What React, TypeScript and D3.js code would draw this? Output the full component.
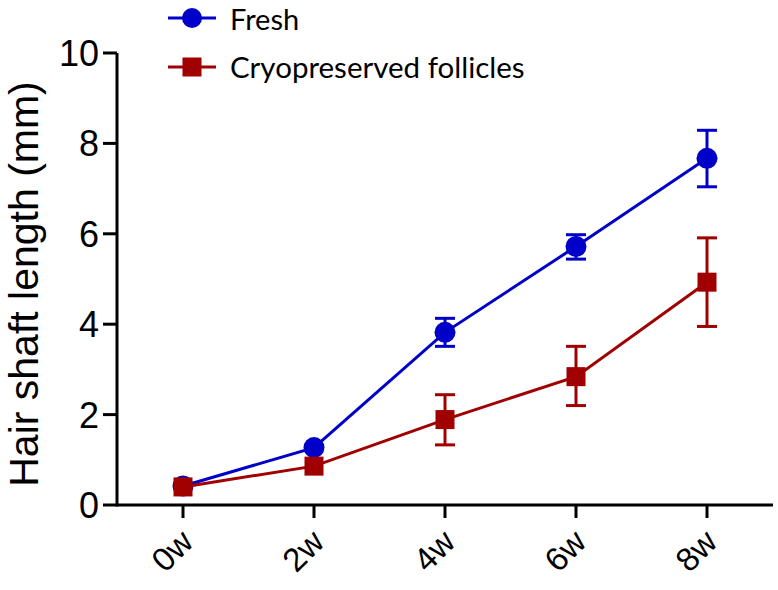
import React from "react";
import * as d3 from "d3";

const categories = ["0w", "2w", "4w", "6w", "8w"];
const freshMean = [0.42, 1.27, 3.82, 5.72, 7.67];
const freshLow = [0.42, 1.27, 3.51, 5.44, 7.04];
const freshHigh = [0.42, 1.27, 4.13, 5.98, 8.29];
const cryoMean = [0.4, 0.86, 1.89, 2.84, 4.93];
const cryoLow = [0.4, 0.86, 1.33, 2.2, 3.95];
const cryoHigh = [0.4, 0.86, 2.44, 3.51, 5.91];
const yTicks = [0, 2, 4, 6, 8, 10];

const BLUE = "#0000C8";
const RED = "#A00000";

export default function App() {
  const W = 778, H = 590;
  const x = d3.scalePoint<string>().domain(categories).range([183, 707]);
  const y = d3.scaleLinear().domain([0, 10]).range([505, 53]);
  const line = d3.line<number>().x((_, i) => x(categories[i])!).y((d) => y(d));
  const axisFont = "'Liberation Sans', Arial, sans-serif";
  const legendFont = "Lato, 'Open Sans', sans-serif";

  const errBars = (lo: number[], hi: number[], color: string) =>
    categories.map((c, i) =>
      hi[i] - lo[i] > 0.05 ? (
        <g key={"e" + c} stroke={color} strokeWidth={3}>
          <line x1={x(c)} x2={x(c)} y1={y(lo[i])} y2={y(hi[i])} />
          <line x1={x(c)! - 10} x2={x(c)! + 10} y1={y(lo[i])} y2={y(lo[i])} />
          <line x1={x(c)! - 10} x2={x(c)! + 10} y1={y(hi[i])} y2={y(hi[i])} />
        </g>
      ) : null
    );

  return (
    <svg width={W} height={H} style={{ position: "absolute", left: 0, top: 0 }}>
      <rect width={W} height={H} fill="#fff" />
      {/* axes */}
      <g stroke="#000" strokeWidth={3} fill="none">
        <line x1={117} x2={117} y1={y(10)} y2={y(0) + 1.5} />
        <line x1={117} x2={773} y1={y(0)} y2={y(0)} />
        {yTicks.map((t) => (
          <line key={t} x1={103} x2={117} y1={y(t)} y2={y(t)} />
        ))}
        {categories.map((c) => (
          <line key={c} x1={x(c)} x2={x(c)} y1={y(0)} y2={y(0) + 13} />
        ))}
      </g>
      {yTicks.map((t) => (
        <text key={t} x={99} y={y(t)} dy="0.36em" textAnchor="end" fontFamily={axisFont} fontSize={36} fill="#000">
          {t}
        </text>
      ))}
      {categories.map((c) => (
        <text
          key={c}
          transform={`translate(${x(c)! + 12},${544}) rotate(-45)`}
          textAnchor="end"
          fontFamily={axisFont}
          fontSize={33}
          fill="#000"
        >
          {c}
        </text>
      ))}
      <text
        transform={`translate(38,${284}) rotate(-90)`}
        textAnchor="middle"
        fontFamily={axisFont}
        fontSize={41}
        fill="#000"
      >
        Hair shaft length (mm)
      </text>

      {/* fresh */}
      {errBars(freshLow, freshHigh, BLUE)}
      <path d={line(freshMean)!} fill="none" stroke={BLUE} strokeWidth={3} />
      {freshMean.map((v, i) => (
        <circle key={"f" + i} cx={x(categories[i])} cy={y(v)} r={10.5} fill={BLUE} />
      ))}

      {/* cryo */}
      {errBars(cryoLow, cryoHigh, RED)}
      <path d={line(cryoMean)!} fill="none" stroke={RED} strokeWidth={3} />
      {cryoMean.map((v, i) => (
        <rect key={"c" + i} x={x(categories[i])! - 9.5} y={y(v) - 9.5} width={19} height={19} fill={RED} />
      ))}

      {/* legend */}
      <g>
        <line x1={168} x2={216} y1={18} y2={18} stroke={BLUE} strokeWidth={3} />
        <circle cx={192} cy={18} r={10} fill={BLUE} />
        <text x={230} y={30} fontFamily={legendFont} fontSize={29} fill="#000">Fresh</text>
        <line x1={168} x2={216} y1={67} y2={67} stroke={RED} strokeWidth={3} />
        <rect x={182.5} y={57.5} width={19} height={19} fill={RED} />
        <text x={230} y={78} fontFamily={legendFont} fontSize={29.5} fill="#000">Cryopreserved follicles</text>
      </g>
    </svg>
  );
}
